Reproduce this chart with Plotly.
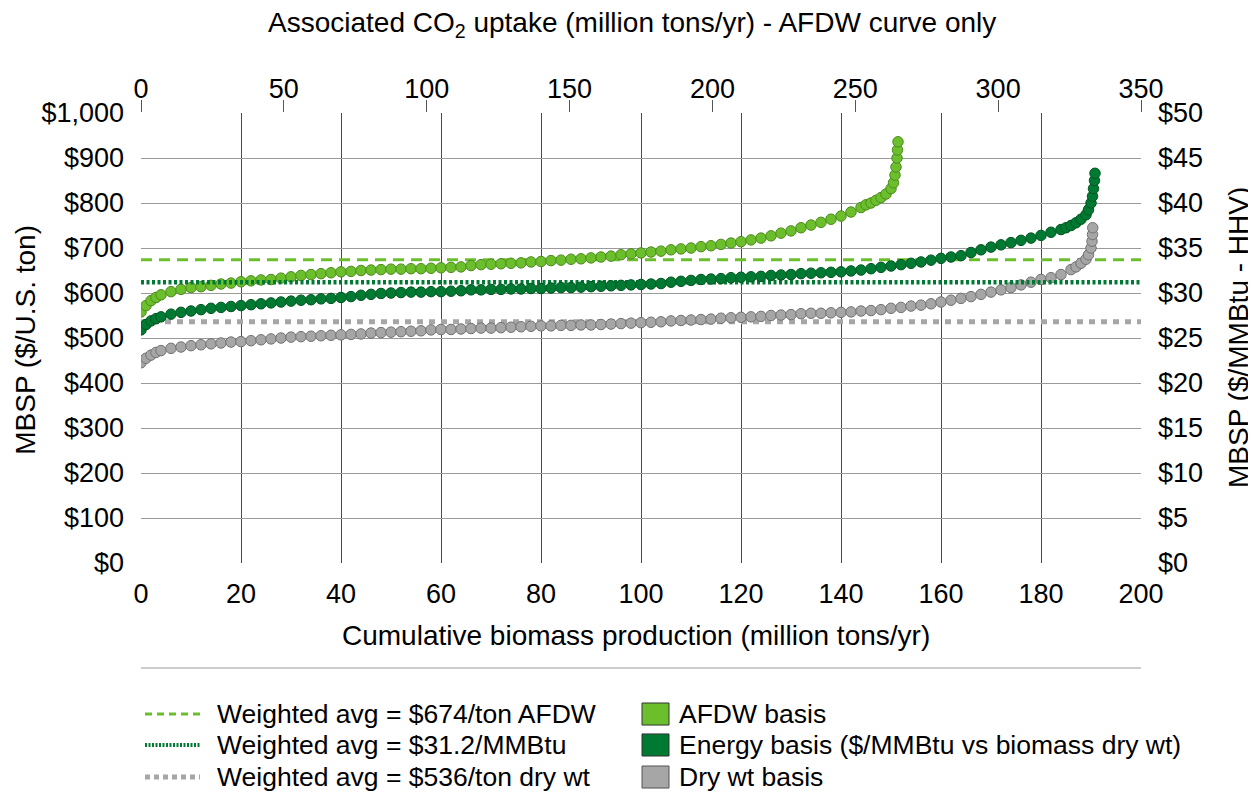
import plotly.graph_objects as go

# ---------------- data ----------------
# AFDW basis: cumulative biomass (million tons/yr) vs MBSP ($/U.S. ton)
afdw_x = [0, 1, 2, 3, 4, 6, 8, 10, 12, 14, 16, 18, 20, 22, 24, 26, 28, 30, 32, 34, 36, 38, 40,
          42, 44, 46, 48, 50, 52, 54, 56, 58, 60, 62, 64, 66, 68, 70, 72, 74, 76, 78, 80,
          82, 84, 86, 88, 90, 92, 94, 96, 98, 100, 102, 104, 106, 108, 110, 112, 114, 116,
          118, 120, 122, 124, 126, 128, 130, 132, 134, 136, 138, 140, 142, 144, 145, 146,
          147, 148, 149, 150, 150.5, 150.8, 151, 151.2, 151.3, 151.4]
afdw_y = [558, 572, 583, 590, 596, 603, 608, 612, 614, 617, 620, 622, 625, 627, 629, 630, 633,
          636, 639, 641, 643, 645, 647, 648, 650, 651, 652, 653, 653, 654, 654, 655, 656, 657,
          658, 661, 663, 664, 665, 666, 667, 669, 670, 672, 673, 675, 676, 678, 680, 682, 685,
          687, 689, 691, 693, 696, 698, 700, 703, 705, 708, 711, 714, 718, 722, 727, 733, 738,
          745, 751, 757, 764, 771, 780, 790, 796, 800, 806, 812, 820, 832, 845, 862, 880, 900,
          918, 936]

# Energy basis: cumulative biomass (dry wt) vs MBSP ($/MMBtu - HHV)
energy_x = [0, 1, 2, 3, 4, 6, 8, 10, 12, 14, 16, 18, 20, 22, 24, 26, 28, 30, 32, 34, 36, 38, 40,
            42, 44, 46, 48, 50, 52, 54, 56, 58, 60, 62, 64, 66, 68, 70, 72, 74, 76, 78, 80,
            82, 84, 86, 88, 90, 92, 94, 96, 98, 100, 102, 104, 106, 108, 110, 112, 114, 116,
            118, 120, 122, 124, 126, 128, 130, 132, 134, 136, 138, 140, 142, 144, 146, 148,
            150, 152, 154, 156, 158, 160, 162, 164, 166, 168, 170, 172, 174, 176, 178, 180,
            182, 184, 185, 186, 187, 188, 189, 189.5, 190, 190.3, 190.5, 190.7, 190.8]
energy_y = [25.9, 26.5, 26.9, 27.15, 27.35, 27.65, 27.85, 28.0, 28.15, 28.3, 28.4, 28.5, 28.6,
            28.7, 28.8, 28.9, 29.0, 29.1, 29.2, 29.25, 29.35, 29.4, 29.5, 29.6, 29.75, 29.85,
            29.95, 30.0, 30.05, 30.1, 30.1, 30.15, 30.15, 30.2, 30.25, 30.35, 30.35, 30.4, 30.4,
            30.45, 30.45, 30.5, 30.5, 30.55, 30.6, 30.6, 30.65, 30.7, 30.75, 30.8, 30.85, 30.9,
            30.95, 31.0, 31.05, 31.2, 31.3, 31.4, 31.5, 31.55, 31.6, 31.7, 31.75, 31.8, 31.85,
            31.95, 32.0, 32.05, 32.15, 32.2, 32.25, 32.3, 32.35, 32.45, 32.55, 32.7, 32.85, 33.0,
            33.15, 33.3, 33.45, 33.65, 33.85, 34.0, 34.15, 34.5, 34.8, 35.1, 35.35, 35.6, 35.85,
            36.1, 36.4, 36.75, 37.05, 37.25, 37.5, 37.8, 38.2, 38.7, 39.25, 40.0, 40.75, 41.6,
            42.5, 43.3]

# Dry wt basis: cumulative biomass vs MBSP ($/U.S. ton)
dry_x = [0, 1, 2, 3, 4, 6, 8, 10, 12, 14, 16, 18, 20, 22, 24, 26, 28, 30, 32, 34, 36, 38, 40,
         42, 44, 46, 48, 50, 52, 54, 56, 58, 60, 62, 64, 66, 68, 70, 72, 74, 76, 78, 80,
         82, 84, 86, 88, 90, 92, 94, 96, 98, 100, 102, 104, 106, 108, 110, 112, 114, 116,
         118, 120, 122, 124, 126, 128, 130, 132, 134, 136, 138, 140, 142, 144, 146, 148,
         150, 152, 154, 156, 158, 160, 162, 164, 166, 168, 170, 172, 174, 176, 178, 180,
         182, 184, 186, 187, 188, 189, 189.5, 190, 190.2, 190.3, 190.35]
dry_y = [445, 455, 462, 468, 472, 477, 480, 483, 485, 487, 489, 491, 492, 494, 496, 498, 500,
         502, 503, 504, 505, 506, 507, 508, 509, 511, 512, 513, 514, 515, 516, 518, 519, 519,
         520, 521, 522, 522, 523, 524, 525, 526, 527, 527, 528, 528, 529, 529, 530, 531, 532,
         533, 534, 535, 536, 538, 539, 540, 541, 542, 544, 545, 546, 547, 548, 550, 551, 552,
         554, 555, 555, 556, 557, 558, 560, 561, 563, 566, 568, 571, 573, 576, 580, 584, 588,
         592, 597, 602, 607, 612, 618, 624, 630, 634, 641, 652, 658, 666, 675, 685, 700, 715,
         730, 745]

# weighted averages
avg_afdw = 674        # $/ton AFDW
avg_energy = 31.2     # $/MMBtu
avg_dry = 536         # $/ton dry wt
avg_x = [0, 200]

# axis ticks
x_ticks = list(range(0, 201, 20))
co2_ticks = list(range(0, 351, 50))
y_ticks = list(range(0, 1001, 100))
y_ticktext = ["$0", "$100", "$200", "$300", "$400", "$500", "$600", "$700", "$800", "$900",
              "$1,000"]
y2_ticks = list(range(0, 51, 5))
y2_ticktext = ["$0", "$5", "$10", "$15", "$20", "$25", "$30", "$35", "$40", "$45", "$50"]

legend_lines = ["Weighted avg = $674/ton AFDW", "Weighted avg = $31.2/MMBtu",
                "Weighted avg = $536/ton dry wt"]
legend_boxes = ["AFDW basis", "Energy basis ($/MMBtu vs biomass dry wt)", "Dry wt basis"]

# ---------------- style ----------------
FONT = "Liberation Sans"
FS_TICK = 27
FS_LEG = 26.5
FS_T = 28
C_AFDW = "#6CBF2C"
C_AFDW_E = "#4C8C1C"
C_EN = "#007A33"
C_EN_E = "#00561F"
C_DRY = "#A6A6A6"
C_DRY_E = "#737373"

fig = go.Figure()

# average lines (behind points)
fig.add_trace(go.Scatter(x=avg_x, y=[avg_afdw, avg_afdw], mode="lines", xaxis="x", yaxis="y",
                         line=dict(color=C_AFDW, width=3, dash="11px,7px"),
                         showlegend=False, hoverinfo="skip"))
fig.add_trace(go.Scatter(x=avg_x, y=[avg_energy, avg_energy], mode="lines", xaxis="x", yaxis="y2",
                         line=dict(color=C_EN, width=4.5, dash="3px,2.5px"),
                         showlegend=False, hoverinfo="skip"))
fig.add_trace(go.Scatter(x=avg_x, y=[avg_dry, avg_dry], mode="lines", xaxis="x", yaxis="y",
                         line=dict(color=C_DRY, width=5, dash="6px,6px"),
                         showlegend=False, hoverinfo="skip"))

# data points
fig.add_trace(go.Scatter(x=dry_x, y=dry_y, mode="markers", xaxis="x", yaxis="y",
                         marker=dict(size=10.5, color=C_DRY, line=dict(color=C_DRY_E, width=1)),
                         showlegend=False))
fig.add_trace(go.Scatter(x=energy_x, y=energy_y, mode="markers", xaxis="x", yaxis="y2",
                         marker=dict(size=10.5, color=C_EN, line=dict(color=C_EN_E, width=1)),
                         showlegend=False))
fig.add_trace(go.Scatter(x=afdw_x, y=afdw_y, mode="markers", xaxis="x", yaxis="y",
                         marker=dict(size=10.5, color=C_AFDW, line=dict(color=C_AFDW_E, width=1)),
                         showlegend=False))

# invisible trace to activate top CO2 axis
fig.add_trace(go.Scatter(x=[co2_ticks[0], co2_ticks[-1]], y=[None, None], mode="markers",
                         xaxis="x2", yaxis="y", showlegend=False, hoverinfo="skip"))

tickfont = dict(family=FONT, size=FS_TICK, color="#000")

# page body has an 8px margin, so the figure is 8px smaller than the window
fig.update_layout(
    width=1248, height=789,
    margin=dict(l=133, r=115, t=105, b=234),
    paper_bgcolor="white", plot_bgcolor="white",
    font=dict(family=FONT, size=FS_LEG, color="#000"),
    xaxis=dict(range=[0, 200], tickvals=x_ticks, showgrid=True, gridcolor="#4a4a4a",
               gridwidth=1, zeroline=False, showline=False, tickfont=tickfont,
               ticks="", ticklabelstandoff=12),
    xaxis2=dict(range=[0, 350], tickvals=co2_ticks, overlaying="x", side="top", anchor="y",
                showgrid=False, zeroline=False, showline=False, tickfont=tickfont,
                ticks="outside", ticklen=12, tickcolor="#555", ticklabelstandoff=-9),
    yaxis=dict(range=[0, 1000], tickvals=y_ticks, ticktext=y_ticktext,
               showgrid=True, gridcolor="#9a9a9a", gridwidth=1.2, zeroline=False,
               showline=False, tickfont=tickfont, ticks="", ticklabelstandoff=16),
    yaxis2=dict(range=[0, 50], tickvals=y2_ticks, ticktext=y2_ticktext, overlaying="y",
                side="right", anchor="x", showgrid=False, zeroline=False, showline=False,
                tickfont=tickfont, ticks="", ticklabelstandoff=16),
    showlegend=False,
)

ann = []
ann.append(dict(text="Associated CO<sub>2</sub> uptake (million tons/yr) - AFDW curve only",
                x=0.491, y=1.1956, xref="paper", yref="paper", showarrow=False,
                xanchor="center", yanchor="middle", font=dict(size=FS_T)))
ann.append(dict(text="Cumulative biomass production (million tons/yr)", x=0.495, y=-0.162,
                xref="paper", yref="paper", showarrow=False, xanchor="center", yanchor="middle",
                font=dict(size=FS_T)))
ann.append(dict(text="MBSP ($/U.S. ton)", x=-0.115, y=0.496, xref="paper", yref="paper",
                showarrow=False, textangle=-90, xanchor="center", yanchor="middle",
                font=dict(size=FS_T)))
ann.append(dict(text="MBSP ($/MMBtu - HHV)", x=1.097, y=0.5, xref="paper", yref="paper",
                showarrow=False, textangle=-90, xanchor="center", yanchor="middle",
                font=dict(size=FS_T)))

shapes = []
# separator line
shapes.append(dict(type="line", xref="paper", yref="paper", x0=0, x1=1, y0=-0.2333, y1=-0.2333,
                   line=dict(color="#9a9a9a", width=1)))

rows_y = [-0.3356, -0.4044, -0.4756]
line_styles = [dict(color=C_AFDW, width=3, dash="7px,5px"),
               dict(color=C_EN, width=4, dash="2px,1.5px"),
               dict(color=C_DRY, width=5, dash="5px,4px")]
box_styles = [(C_AFDW, "#333"), (C_EN, "#333"), (C_DRY, "#555")]
for i, yy in enumerate(rows_y):
    shapes.append(dict(type="line", xref="paper", yref="paper", x0=0.004, x1=0.059, y0=yy, y1=yy,
                       line=line_styles[i]))
    ann.append(dict(text=legend_lines[i], x=0.074, y=yy, xref="paper", yref="paper",
                    showarrow=False, xanchor="left", yanchor="middle", font=dict(size=FS_LEG)))
    shapes.append(dict(type="rect", xref="paper", yref="paper", x0=0.501, x1=0.528,
                       y0=yy - 0.0245, y1=yy + 0.0245, fillcolor=box_styles[i][0],
                       line=dict(color=box_styles[i][1], width=1)))
    ann.append(dict(text=legend_boxes[i], x=0.536, y=yy, xref="paper", yref="paper",
                    showarrow=False, xanchor="left", yanchor="middle", font=dict(size=FS_LEG)))

fig.update_layout(annotations=ann, shapes=shapes)
fig.write_html("out.html")
